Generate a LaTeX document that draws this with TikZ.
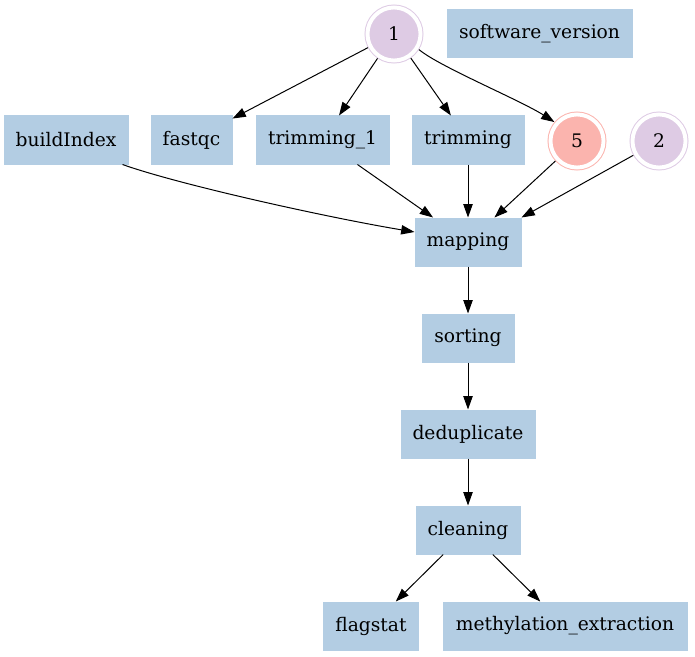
\documentclass[tikz,border=0pt]{standalone}
\usepackage{fontspec}
\setmainfont{DejaVu Serif}
\usetikzlibrary{arrows.meta,calc}

\definecolor{taskblue}{HTML}{B3CDE3}
\definecolor{lavender}{HTML}{DECBE4}
\definecolor{salmon}{HTML}{FBB4AE}

\tikzset{
  task/.style={rectangle, fill=taskblue, draw=taskblue, line width=0.75pt,
    minimum height=36pt, minimum width=#1, inner sep=0pt,
    font=\fontsize{14}{17}\selectfont},
  ring/.style={circle, fill=#1, draw=#1, double=white, double distance=2.95pt,
    line width=0.75pt, minimum size=39.8pt, inner sep=0pt, outer sep=2.2pt,
    font=\fontsize{14}{17}\selectfont},
  flow/.style={draw=black, line width=0.75pt,
    -{Triangle[length=10pt,width=7pt]}},
}

\begin{document}
\begin{tikzpicture}[x=0.75pt,y=-0.75pt]
  \useasboundingbox (0,0) rectangle (695,656);

  % top rank
  \node[ring=lavender] (n1) at (394,34) {1};
  \node[task=138.75pt] (software) at (539.5,34) {software\_version};

  % second rank
  \node[task=93pt]    (buildIndex) at (66,140)    {buildIndex};
  \node[task=60.75pt] (fastqc)     at (191.5,140) {fastqc};
  \node[task=99.75pt] (trimming1)  at (322.5,140) {trimming\_1};
  \node[task=84pt]    (trimming)   at (468,140)   {trimming};
  \node[ring=salmon]   (n5) at (577,141) {5};
  \node[ring=lavender] (n2) at (659,141) {2};

  % main chain
  \node[task=79.5pt]  (mapping)     at (468,242) {mapping};
  \node[task=69pt]    (sorting)     at (468,338) {sorting};
  \node[task=100.5pt] (deduplicate) at (468,434) {deduplicate};
  \node[task=78pt]    (cleaning)    at (468,530) {cleaning};
  \node[task=71.25pt] (flagstat)    at (371,626) {flagstat};
  \node[task=183pt]   (methylation) at (565,626) {methylation\_extraction};

  % edges out of 1
  \draw[flow] (n1) -- (fastqc);
  \draw[flow] (n1) -- (trimming1);
  \draw[flow] (n1) -- (trimming);
  \draw[flow] (n1.-32) .. controls (440,67) and (520,100) .. (n5.140);

  % edges into mapping
  \draw[flow] ($(buildIndex.south east)+(-6,0)$)
    .. controls (180,185) and (330,218) .. ($(mapping.west)+(0,-10)$);
  \draw[flow] (trimming1) -- (mapping);
  \draw[flow] (trimming) -- (mapping);
  \draw[flow] (n5) -- (mapping);
  \draw[flow] (n2) -- (mapping.north east);

  % chain
  \draw[flow] (mapping) -- (sorting);
  \draw[flow] (sorting) -- (deduplicate);
  \draw[flow] (deduplicate) -- (cleaning);
  \draw[flow] (cleaning) -- (flagstat);
  \draw[flow] (cleaning) -- (methylation);
\end{tikzpicture}
\end{document}
